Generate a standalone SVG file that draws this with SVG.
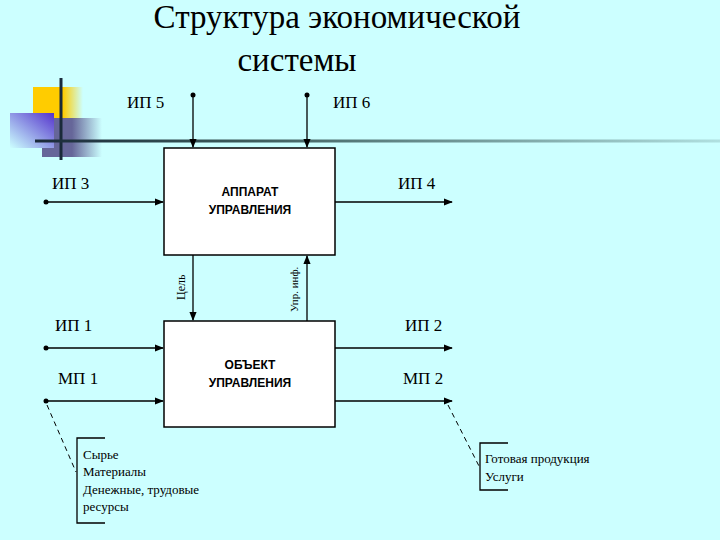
<svg xmlns="http://www.w3.org/2000/svg" width="720" height="540" viewBox="0 0 720 540">
<defs>
<style>
.t{font-family:"Liberation Serif",serif;fill:#000}
.lb{font-size:17px}
.bx{font-family:"Liberation Sans",sans-serif;font-weight:bold;font-size:12px;text-anchor:middle}
.ln{stroke:#000;stroke-width:1.3;fill:none}
.box{fill:#fff;stroke:#000;stroke-width:1.5}
.sm{font-size:13px}
</style>
<marker id="a" viewBox="0 0 10 10" refX="9" refY="5" markerWidth="7" markerHeight="7" orient="auto"><path d="M0,1L10,5L0,9z" fill="#000"/></marker>
<linearGradient id="gy" x1="0" x2="1"><stop offset="0.6" stop-color="#ffcc00"/><stop offset="1" stop-color="#ffcc00" stop-opacity="0"/></linearGradient>
<linearGradient id="gb" x1="0" x2="1"><stop offset="0.5" stop-color="#666699"/><stop offset="1" stop-color="#666699" stop-opacity="0"/></linearGradient>
<linearGradient id="gp" x1="0" y1="1" x2="1" y2="0"><stop offset="0" stop-color="#ccffff"/><stop offset="1" stop-color="#5533cc"/></linearGradient>
<linearGradient id="gl" gradientUnits="userSpaceOnUse" x1="35" y1="0" x2="720" y2="0"><stop offset="0" stop-color="#1a2a3a"/><stop offset="0.3" stop-color="#3a5a5a"/><stop offset="1" stop-color="#b0e0e0"/></linearGradient>
</defs>
<rect width="720" height="540" fill="#ccffff"/>
<g id="deco">
<rect x="33" y="87" width="50" height="32" fill="url(#gy)"/>
<rect x="42" y="118" width="60" height="39" fill="url(#gb)"/>
<rect x="10" y="113" width="44" height="35" fill="url(#gp)"/>
<line x1="61" y1="78" x2="61" y2="160" stroke="#1a2a3a" stroke-width="3"/>
<line x1="35" y1="141" x2="720" y2="141" stroke="url(#gl)" stroke-width="3"/>
</g>
<g id="title" class="t" font-size="33" text-anchor="middle">
<text x="337" y="28">Структура экономической</text>
<text x="297" y="71">системы</text>
</g>
<g id="connectors">
<line class="ln" x1="193" y1="95" x2="193" y2="147" marker-end="url(#a)"/>
<line class="ln" x1="307" y1="95" x2="307" y2="147" marker-end="url(#a)"/>
<line class="ln" x1="46" y1="202" x2="163" y2="202" marker-end="url(#a)"/>
<line class="ln" x1="335" y1="202" x2="452" y2="202" marker-end="url(#a)"/>
<line class="ln" x1="193" y1="255" x2="193" y2="320" marker-end="url(#a)"/>
<line class="ln" x1="307" y1="321" x2="307" y2="256" marker-end="url(#a)"/>
<line class="ln" x1="46" y1="348" x2="163" y2="348" marker-end="url(#a)"/>
<line class="ln" x1="335" y1="348" x2="452" y2="348" marker-end="url(#a)"/>
<line class="ln" x1="46" y1="401" x2="163" y2="401" marker-end="url(#a)"/>
<line class="ln" x1="335" y1="401" x2="452" y2="401" marker-end="url(#a)"/>
<g fill="#000"><circle cx="193" cy="95" r="2.5"/><circle cx="307" cy="95" r="2.5"/><circle cx="46" cy="202" r="2.5"/><circle cx="46" cy="348" r="2.5"/><circle cx="46" cy="401" r="2.5"/></g>
<line x1="47" y1="405" x2="76" y2="472" stroke="#000" stroke-dasharray="5,4"/>
<line x1="448" y1="405" x2="480" y2="468" stroke="#000" stroke-dasharray="5,4"/>
</g>
<g id="labels" class="t lb">
<text x="127" y="108">ИП 5</text><text x="333" y="108">ИП 6</text>
<text x="52" y="189">ИП 3</text><text x="398" y="189">ИП 4</text>
<text x="55" y="331">ИП 1</text><text x="405" y="331">ИП 2</text>
<text x="58" y="384">МП 1</text><text x="403" y="384">МП 2</text>
<text transform="translate(185,300) rotate(-90)" font-size="12">Цель</text>
<text transform="translate(298,312) rotate(-90)" font-size="11">Упр. инф.</text>
</g>
<g id="apparat"><rect class="box" x="164" y="148" width="171" height="107"/>
<text class="bx" x="250" y="196">АППАРАТ</text><text class="bx" x="250" y="214">УПРАВЛЕНИЯ</text></g>
<g id="object"><rect class="box" x="164" y="321" width="171" height="106"/>
<text class="bx" x="250" y="369">ОБЪЕКТ</text><text class="bx" x="250" y="387">УПРАВЛЕНИЯ</text></g>
<g id="inputs">
<path class="ln" d="M105,438H77V523H105"/>
<g class="t sm"><text x="83" y="459">Сырье</text><text x="83" y="476">Материалы</text><text x="83" y="494">Денежные, трудовые</text><text x="83" y="511">ресурсы</text></g>
</g>
<g id="outputs">
<path class="ln" d="M508,443H480V490H508"/>
<g class="t sm"><text x="485" y="463">Готовая продукция</text><text x="485" y="481">Услуги</text></g>
</g>
</svg>
